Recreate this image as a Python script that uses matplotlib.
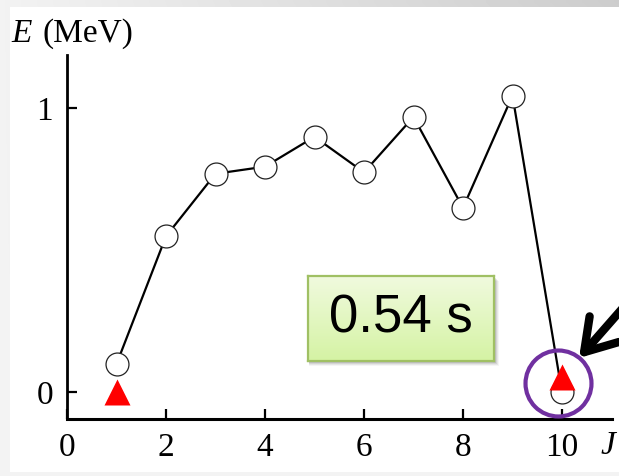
import numpy as np
import matplotlib
matplotlib.use('Agg')
import matplotlib.pyplot as plt
from matplotlib.patches import Rectangle
from matplotlib.colors import LinearSegmentedColormap

# ---- data ----
J = [1, 2, 3, 4, 5, 6, 7, 8, 9, 10]
E_calc = [0.10, 0.55, 0.77, 0.795, 0.90, 0.775, 0.97, 0.65, 1.045, 0.0]
J_exp = [1, 10]
E_exp = [0.0, 0.053]
x_ticks = [0, 2, 4, 6, 8, 10]
y_ticks = [0, 1]
highlight_J = 9.92
highlight_E = 0.032
box_label = "0.54 s"

W, H = 619, 476
fig = plt.figure(figsize=(W / 100, H / 100), dpi=100)

# ---- slide-like background ----
bg = fig.add_axes([0, 0, 1, 1])
bg.axis('off')
yy, xx = np.mgrid[0:1:120j, 0:1:160j]
grad = 0.95 - 0.15 * xx * (1 - yy)
bg.imshow(grad, cmap='gray', vmin=0, vmax=1, extent=[0, 1, 0, 1],
          origin='upper', aspect='auto', interpolation='bilinear')
bg.add_patch(Rectangle((10 / W, (H - 472) / H), (W - 10) / W, (472 - 7) / H,
                       transform=bg.transAxes, facecolor='white', edgecolor='none'))
bg.set_xlim(0, 1)
bg.set_ylim(0, 1)

serif = 'Liberation Serif'

# ---- main axes ----
ax = fig.add_axes([67 / W, (H - 419) / H, (611.5 - 67) / W, (419 - 55) / H])
ax.patch.set_alpha(0)
ax.plot(J, E_calc, '-', color='black', lw=1.6, zorder=2)
ax.plot(J, E_calc, 'o', ms=16.5, mfc='white', mec='#222222', mew=0.9,
        zorder=3, clip_on=False)
ax.plot(J_exp, E_exp, '^', ms=19, color='#FF0000', mec='none', zorder=4,
        clip_on=False)
ax.plot([highlight_J], [highlight_E], 'o', ms=47.5, mfc='none', mec='#7030A0',
        mew=3, zorder=5, clip_on=False)

ax.set_xlim(0, 11)
ax.set_ylim(-0.0933, 1.188)
ax.set_xticks(x_ticks)
ax.set_yticks(y_ticks)
ax.set_xticklabels([str(t) for t in x_ticks], fontfamily=serif)
ax.set_yticklabels([str(t) for t in y_ticks], fontfamily=serif)
for s in ['top', 'right']:
    ax.spines[s].set_visible(False)
ax.spines['left'].set_linewidth(2.0)
ax.spines['bottom'].set_linewidth(2.2)
ax.tick_params(direction='in', length=7, width=1.6, labelsize=24, pad=10,
               colors='black')

# axis labels
fig.text(11 / W, 1 - 34 / H, 'E', fontfamily=serif, fontstyle='italic',
         fontsize=24, ha='left', va='center')
fig.text(43 / W, 1 - 34 / H, '(MeV)', fontfamily=serif, fontsize=24,
         ha='left', va='center')
fig.text(608 / W, 1 - 446 / H, 'J', fontfamily=serif, fontstyle='italic',
         fontsize=24, ha='center', va='center')

# ---- text box with gradient ----
bx0, by0, bx1, by1 = 308, 276, 494, 361
for k, a in enumerate([0.10, 0.08, 0.06, 0.04]):
    off = 2 + k
    bg.add_patch(Rectangle(((bx0 + 1) / W, (H - by1 - off) / H),
                           (bx1 - bx0 + off - 1) / W, (by1 - by0) / H,
                           transform=fig.transFigure, facecolor='black',
                           alpha=a, edgecolor='none', zorder=1))
bax = fig.add_axes([bx0 / W, (H - by1) / H, (bx1 - bx0) / W, (by1 - by0) / H])
cmap = LinearSegmentedColormap.from_list('g', ['#F0FADE', '#D5F3A4'])
bax.imshow(np.linspace(0, 1, 100).reshape(-1, 1), cmap=cmap, aspect='auto',
           extent=[0, 1, 0, 1], origin='upper')
bax.set_xticks([])
bax.set_yticks([])
for s in bax.spines.values():
    s.set_edgecolor('#A0C064')
    s.set_linewidth(1.6)
bax.text(0.5, 0.5, box_label, fontfamily='Liberation Sans', fontsize=38,
         ha='center', va='center', transform=bax.transAxes)

# ---- arrow ----
ax.annotate('', xy=(579, H - 358), xycoords='figure pixels',
            xytext=(650, H - 277), textcoords='figure pixels',
            arrowprops=dict(arrowstyle='->,head_length=1.1,head_width=0.7',
                            lw=6, color='black', shrinkA=0, shrinkB=0,
                            mutation_scale=20),
            annotation_clip=False)

fig.savefig('out.png', dpi=100)
